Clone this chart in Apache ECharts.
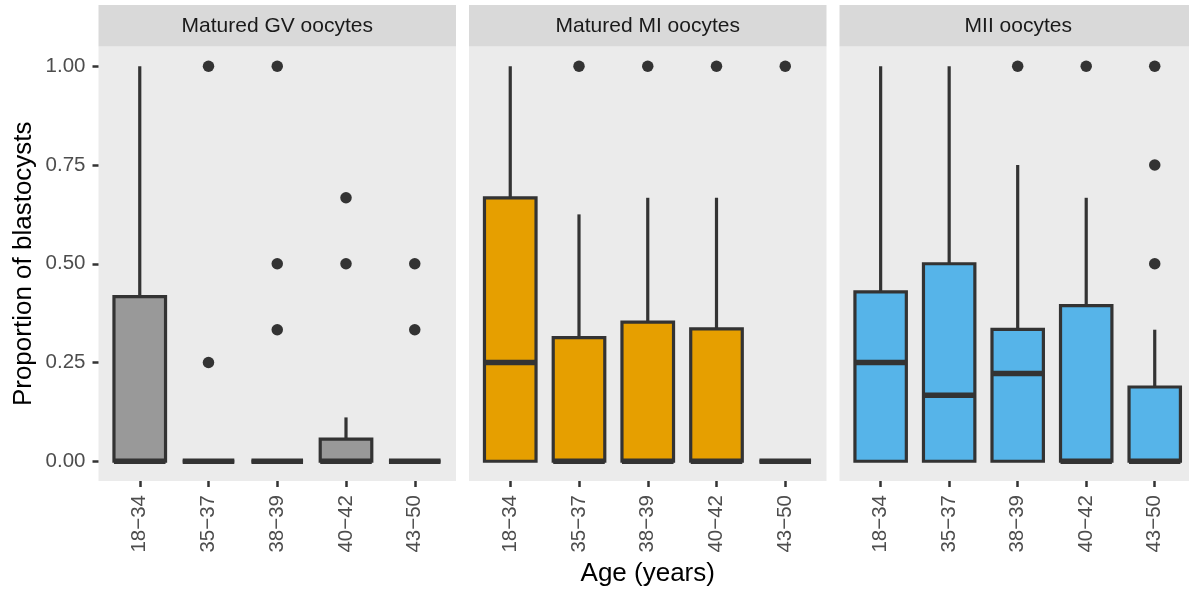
<!DOCTYPE html>
<html>
<head>
<meta charset="utf-8">
<script src="https://cdn.jsdelivr.net/npm/echarts@6/dist/echarts.min.js"></script>
<style>
html,body{margin:0;padding:0;background:#fff;}
#chart{width:1189px;height:592px;}
</style>
</head>
<body>
<div id="chart"></div>
<script>
// ---- data ----
const categories = ['18\u221234', '35\u221237', '38\u221239', '40\u221242', '43\u221250'];
const panelTitles = ['Matured GV oocytes', 'Matured MI oocytes', 'MII oocytes'];
const yTicks = [0, 0.25, 0.5, 0.75, 1.0];
// box stats per category: [min, q1, median, q3, max]
const gvBoxes = [[0, 0, 0, 0.417, 1.0], [0, 0, 0, 0, 0], [0, 0, 0, 0, 0], [0, 0, 0, 0.056, 0.111], [0, 0, 0, 0, 0]];
const miBoxes = [[0, 0, 0.25, 0.667, 1.0], [0, 0, 0, 0.313, 0.625], [0, 0, 0, 0.352, 0.667], [0, 0, 0, 0.335, 0.667], [0, 0, 0, 0, 0]];
const miiBoxes = [[0, 0, 0.25, 0.429, 1.0], [0, 0, 0.167, 0.5, 1.0], [0, 0, 0.222, 0.334, 0.75], [0, 0, 0, 0.394, 0.667], [0, 0, 0, 0.188, 0.333]];
// outliers: [category index, value]
const gvOutliers = [[1, 1.0], [1, 0.25], [2, 1.0], [2, 0.5], [2, 0.333], [3, 0.667], [3, 0.5], [4, 0.5], [4, 0.333]];
const miOutliers = [[1, 1.0], [2, 1.0], [3, 1.0], [4, 1.0]];
const miiOutliers = [[2, 1.0], [3, 1.0], [4, 1.0], [4, 0.75], [4, 0.5]];
const fillColors = ['#999999', '#E69F00', '#56B4E9'];

// ---- layout ----
const FONT = "'Liberation Sans', Arial, sans-serif";
const panelLeft0 = 98.5, panelW = 357.5, panelGap = 13;
const panelTop = 46.5, panelBottom = 481, stripTop = 5;
const panelH = panelBottom - panelTop;
const innerOff = panelW * 0.1 / 5.2, innerW = panelW * 5 / 5.2;
const boxesAll = [gvBoxes, miBoxes, miiBoxes];
const outliersAll = [gvOutliers, miOutliers, miiOutliers];

const grids = [], xAxes = [], yAxes = [], series = [], graphics = [];
for (let i = 0; i < 3; i++) {
  const left = panelLeft0 + i * (panelW + panelGap);
  grids.push({left: left, top: panelTop, width: panelW, height: panelH, show: true,
    backgroundColor: '#EBEBEB', borderWidth: 0});
  xAxes.push({gridIndex: i, type: 'value', show: false, min: 0, max: 1});
  yAxes.push({
    gridIndex: i, type: 'value', min: -0.05, max: 1.05, show: i === 0,
    splitLine: {show: false}, axisLine: {show: false, onZero: false},
    axisTick: {show: true, length: 6, customValues: yTicks, lineStyle: {color: '#333333', width: 2.5}},
    axisLabel: {customValues: yTicks, margin: 13, fontSize: 20.5, fontFamily: FONT, color: '#4D4D4D',
      formatter: v => v.toFixed(2)},
    name: i === 0 ? 'Proportion of blastocysts' : '', nameLocation: 'middle', nameRotate: 90, nameGap: 62,
    nameTextStyle: {fontSize: 26, fontFamily: FONT, color: '#000000'}
  });
  graphics.push({type: 'rect', left: left, top: stripTop,
    shape: {width: panelW, height: panelTop - stripTop}, style: {fill: '#D9D9D9'}, z: 0});
  graphics.push({type: 'text', x: left + panelW / 2, y: (stripTop + panelTop) / 2,
    style: {text: panelTitles[i], fontSize: 21, fontFamily: FONT, fill: '#1A1A1A', align: 'center', verticalAlign: 'middle'}, z: 1});
}
for (let i = 0; i < 3; i++) {
  const left = panelLeft0 + i * (panelW + panelGap) + innerOff;
  grids.push({left: left, top: panelTop, width: innerW, height: panelH, show: false});
  xAxes.push({
    gridIndex: 3 + i, type: 'category', data: categories, boundaryGap: true,
    axisLine: {show: false, onZero: false}, splitLine: {show: false},
    axisTick: {show: true, alignWithLabel: true, length: 6, lineStyle: {color: '#333333', width: 2.5}},
    axisLabel: {rotate: 90, margin: 14, fontSize: 20.5, fontFamily: FONT, color: '#4D4D4D', interval: 0},
    name: i === 1 ? 'Age (years)' : '', nameLocation: 'middle', nameGap: 78,
    nameTextStyle: {fontSize: 26, fontFamily: FONT, color: '#000000'}
  });
  yAxes.push({gridIndex: 3 + i, type: 'value', min: -0.05, max: 1.05, show: false});
  const fill = fillColors[i];
  series.push({
    type: 'custom', xAxisIndex: 3 + i, yAxisIndex: 3 + i, clip: false,
    data: boxesAll[i].map((b, k) => [k].concat(b)),
    encode: {x: 0, y: [1, 2, 3, 4, 5]},
    renderItem: function (params, api) {
      const x = api.value(0);
      const pMin = api.coord([x, api.value(1)]);
      const pQ1 = api.coord([x, api.value(2)]);
      const pMed = api.coord([x, api.value(3)]);
      const pQ3 = api.coord([x, api.value(4)]);
      const pMax = api.coord([x, api.value(5)]);
      const hw = api.size([1, 0])[0] * 0.75 / 2;
      const cx = pMed[0];
      const stroke = '#333333';
      return {type: 'group', children: [
        {type: 'line', shape: {x1: cx, y1: pQ3[1], x2: cx, y2: pMax[1]}, style: {stroke: stroke, lineWidth: 3.2}},
        {type: 'line', shape: {x1: cx, y1: pMin[1], x2: cx, y2: pQ1[1]}, style: {stroke: stroke, lineWidth: 3.2}},
        {type: 'rect', shape: {x: cx - hw, y: pQ3[1], width: hw * 2, height: pQ1[1] - pQ3[1]},
          style: {fill: fill, stroke: stroke, lineWidth: 3.2}},
        {type: 'line', shape: {x1: cx - hw, y1: pMed[1], x2: cx + hw, y2: pMed[1]}, style: {stroke: stroke, lineWidth: 5.5}}
      ]};
    },
    z: 2
  });
  series.push({
    type: 'scatter', xAxisIndex: 3 + i, yAxisIndex: 3 + i,
    data: outliersAll[i], symbol: 'circle', symbolSize: 11.5,
    itemStyle: {color: '#333333', opacity: 1}, z: 3
  });
}

const chart = echarts.init(document.getElementById('chart'), null, {renderer: 'canvas'});
chart.setOption({
  animation: false,
  backgroundColor: '#FFFFFF',
  grid: grids, xAxis: xAxes, yAxis: yAxes, series: series, graphic: graphics
});
</script>
</body>
</html>
